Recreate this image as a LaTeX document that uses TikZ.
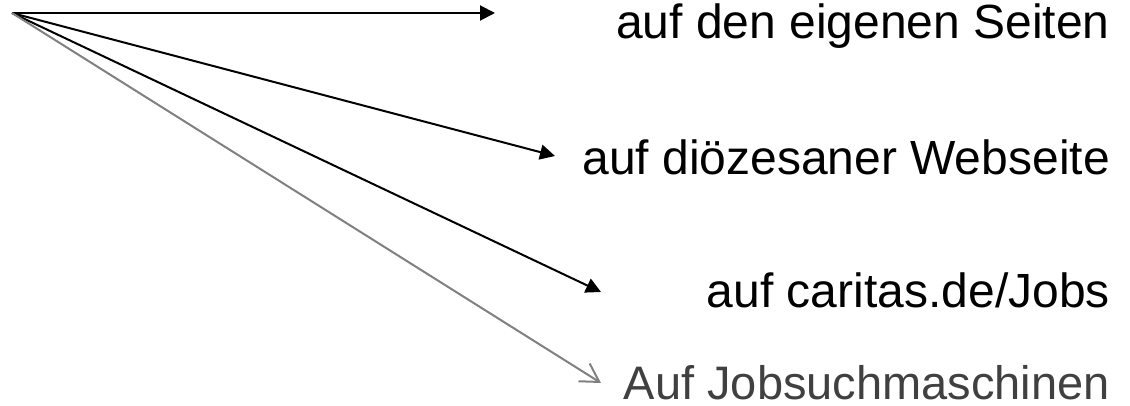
\documentclass[tikz,border=0pt]{standalone}
\usepackage{fontspec}
\setmainfont{Liberation Sans}
\usetikzlibrary{arrows.meta}
\definecolor{arrowgray}{RGB}{128,128,128}
\definecolor{textgray}{RGB}{64,64,64}
\tikzset{
  label/.style={anchor=base east, inner sep=0pt, font=\fontsize{48}{56}\selectfont},
  blackarrow/.style={line width=2pt, black, -{Triangle[length=15pt,width=15pt]}},
  grayarrow/.style={line width=2pt, arrowgray, -{Straight Barb[length=18pt,width=21pt,line width=2pt]}}
}
\begin{document}
\begin{tikzpicture}[x=1pt,y=-1pt]
\useasboundingbox (0,0) rectangle (1130,406);
\coordinate (o) at (12,13);
\coordinate (t1) at (495,13);
\coordinate (t2) at (555,156);
\coordinate (t3) at (601,292);
\coordinate (t4) at (601,383);
\node[label] (l1) at (1110,39) {auf den eigenen Seiten};
\node[label] (l2) at (1110,175) {auf diözesaner Webseite};
\node[label] (l3) at (1110,307) {auf caritas.de/Jobs};
\node[label, text=textgray, text depth=0pt, font=\fontsize{47}{56}\selectfont] (l4) at (1110,399) {Auf Jobsuchmaschinen};
\draw[blackarrow] (o) -- (t1);
\draw[blackarrow] (o) -- (t2);
\draw[blackarrow] (o) -- (t3);
\draw[grayarrow] (o) -- (t4);
\end{tikzpicture}
\end{document}
